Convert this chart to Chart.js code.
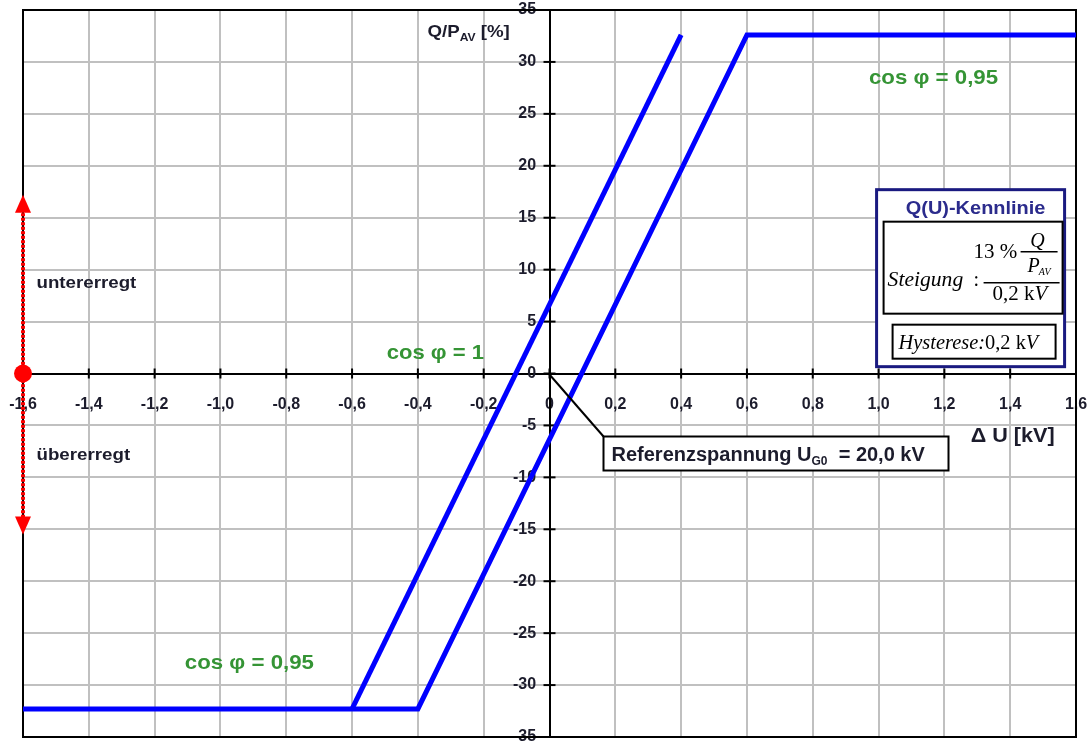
<!DOCTYPE html>
<html><head><meta charset="utf-8">
<script src="https://cdn.jsdelivr.net/npm/chart.js@4.4.0/dist/chart.umd.min.js"></script>
<style>html,body{margin:0;padding:0;background:#fff;overflow:hidden}</style>
</head><body>
<canvas id="c" width="1089" height="744"></canvas>
<script>
// ---- data ----
const xTickValues = [-1.6,-1.4,-1.2,-1.0,-0.8,-0.6,-0.4,-0.2,0,0.2,0.4,0.6,0.8,1.0,1.2,1.4,1.6];
const yTickValues = [-35,-30,-25,-20,-15,-10,-5,0,5,10,15,20,25,30,35];
// Q(U) characteristic with hysteresis (ΔU in kV, Q/P_AV in %)
const curveA_x = [-1.6, -0.4, 0.6, 1.6];
const curveA_y = [-32.3, -32.3, 32.6, 32.6];
const curveB_x = [-0.6, 0.4];
const curveB_y = [-32.3, 32.6];

const SANS = '"Liberation Sans", Arial, sans-serif';
const SERIF = '"Liberation Serif", "Times New Roman", serif';
const TXT = '#1c1c2c';
const GREEN = '#359435';
const NAVY = '#1a1a80';

function fmtX(v){ const r = Math.round(v*10)/10; return r === 0 ? '0' : r.toFixed(1).replace('.', ','); }
function pts(xs, ys){ return xs.map((x,i)=>({x, y: ys[i]})); }
function noPad(s){ s.paddingLeft = 0; s.paddingRight = 0; s.paddingTop = 0; s.paddingBottom = 0; }

function txt(ctx, s, x, y, font, color, align, sx, baseline){
  ctx.save();
  ctx.font = font; ctx.fillStyle = color;
  ctx.textAlign = align || 'left'; ctx.textBaseline = baseline || 'alphabetic';
  ctx.translate(x, y); ctx.scale(sx || 1, 1);
  ctx.fillText(s, 0, 0);
  const w = ctx.measureText(s).width * (sx || 1);
  ctx.restore();
  return w;
}
function line(ctx, x1, y1, x2, y2, color, w){
  ctx.save(); ctx.strokeStyle = color; ctx.lineWidth = w;
  ctx.beginPath(); ctx.moveTo(x1, y1); ctx.lineTo(x2, y2); ctx.stroke(); ctx.restore();
}

const decor = {
  id: 'decor',
  beforeDatasetsDraw(chart){
    const {ctx, chartArea: a, scales: {x, y}} = chart;
    ctx.save();
    ctx.strokeStyle = '#000'; ctx.lineWidth = 2;
    ctx.strokeRect(a.left, a.top, a.right - a.left, a.bottom - a.top);
    ctx.restore();
    const ox = x.getPixelForValue(0), oy = y.getPixelForValue(0);
    xTickValues.forEach(v => { const px = x.getPixelForValue(v); line(ctx, px, oy - 5, px, oy + 5, '#000', 2); });
    yTickValues.forEach(v => { const py = y.getPixelForValue(v); line(ctx, ox - 6, py, ox + 6, py, '#000', 2); });
  },
  afterDraw(chart){
    const {ctx, scales: {x, y}} = chart;
    const X = v => x.getPixelForValue(v), Y = v => y.getPixelForValue(v);
    const ox = X(0), oy = Y(0);

    // axis titles
    let px = X(-0.371), py = Y(32.4);
    px += txt(ctx, 'Q/P', px, py, 'bold 17px ' + SANS, TXT, 'left', 1.1);
    px += txt(ctx, 'AV', px, py + 4, 'bold 11px ' + SANS, TXT, 'left', 1.1);
    txt(ctx, ' [%]', px, py, 'bold 17px ' + SANS, TXT, 'left', 1.1);
    txt(ctx, 'Δ U [kV]', X(1.28), Y(-6.6), 'bold 20px ' + SANS, TXT, 'left', 1.08);

    // cos φ labels
    txt(ctx, 'cos φ = 0,95', X(1.167), Y(28.46), 'bold 21px ' + SANS, GREEN, 'center', 1.06, 'middle');
    txt(ctx, 'cos φ = 0,95', X(-0.912), Y(-27.9), 'bold 21px ' + SANS, GREEN, 'center', 1.06, 'middle');
    txt(ctx, 'cos φ = 1', X(-0.347), Y(2.0), 'bold 21px ' + SANS, GREEN, 'center', 1.05, 'middle');

    // excitation labels
    txt(ctx, 'untererregt', X(-1.559), Y(8.7), 'bold 16px ' + SANS, TXT, 'left', 1.17, 'middle');
    txt(ctx, 'übererregt', X(-1.559), Y(-7.9), 'bold 16px ' + SANS, TXT, 'left', 1.17, 'middle');

    // red double arrow
    const ax = X(-1.6), top = Y(17.2), bot = Y(-15.5);
    ctx.save();
    ctx.strokeStyle = '#ff0000'; ctx.lineWidth = 4; ctx.setLineDash([3, 1.5]);
    ctx.beginPath(); ctx.moveTo(ax, top + 14); ctx.lineTo(ax, bot - 14); ctx.stroke();
    ctx.setLineDash([]);
    ctx.fillStyle = '#ff0000';
    ctx.beginPath(); ctx.moveTo(ax, top); ctx.lineTo(ax - 8, top + 18); ctx.lineTo(ax + 8, top + 18); ctx.closePath(); ctx.fill();
    ctx.beginPath(); ctx.moveTo(ax, bot); ctx.lineTo(ax - 8, bot - 18); ctx.lineTo(ax + 8, bot - 18); ctx.closePath(); ctx.fill();
    ctx.beginPath(); ctx.arc(ax, oy, 9, 0, Math.PI * 2); ctx.fill();
    ctx.restore();

    // Referenzspannung box with leader line
    const rx = ox + 54, ry = oy + 63;
    line(ctx, ox, oy + 1, rx, ry, '#000', 2);
    ctx.save(); ctx.fillStyle = '#fff'; ctx.fillRect(rx, ry, 345, 34);
    ctx.strokeStyle = '#000'; ctx.lineWidth = 2; ctx.strokeRect(rx, ry, 345, 34); ctx.restore();
    let tx = rx + 8; const tb = ry + 24;
    tx += txt(ctx, 'Referenzspannung U', tx, tb, 'bold 20px ' + SANS, TXT, 'left', 1);
    tx += txt(ctx, 'G0', tx, tb + 4, 'bold 12px ' + SANS, TXT, 'left', 1);
    txt(ctx, '  = 20,0 kV', tx, tb, 'bold 20px ' + SANS, TXT, 'left', 1);

    // Q(U)-Kennlinie box
    const bx = X(0.994), by = Y(17.7);
    ctx.save(); ctx.fillStyle = '#fff'; ctx.fillRect(bx, by, 188, 177);
    ctx.strokeStyle = NAVY; ctx.lineWidth = 3; ctx.strokeRect(bx, by, 188, 177); ctx.restore();
    txt(ctx, 'Q(U)-Kennlinie', bx + 99, by + 19, 'bold 19px ' + SANS, '#2b2b8c', 'center', 1.05, 'middle');
    ctx.save(); ctx.strokeStyle = '#000'; ctx.lineWidth = 2;
    ctx.strokeRect(bx + 7, by + 32, 179, 92);
    ctx.strokeRect(bx + 16, by + 135, 163, 34);
    ctx.restore();
    const IT = 'italic 20px ' + SERIF, UP = '20px ' + SERIF;
    txt(ctx, 'Steigung', bx + 11, by + 91, IT, '#000', 'left', 1.08, 'middle');
    txt(ctx, ':', bx + 97, by + 91, UP, '#000', 'left', 1, 'middle');
    txt(ctx, '13 %', bx + 97, by + 68, UP, '#000', 'left', 1.05);
    txt(ctx, 'Q', bx + 161, by + 57, IT, '#000', 'center', 1);
    line(ctx, bx + 144, by + 62, bx + 181, by + 62, '#000', 1.5);
    let qx = bx + 151;
    qx += txt(ctx, 'P', qx, by + 82, IT, '#000', 'left', 1);
    txt(ctx, 'AV', qx - 1, by + 85, 'italic 10px ' + SERIF, '#000', 'left', 1);
    line(ctx, bx + 107, by + 93, bx + 183, by + 93, '#000', 1.5);
    let kx = bx + 116;
    kx += txt(ctx, '0,2 k', kx, by + 110, UP, '#000', 'left', 1.05);
    txt(ctx, 'V', kx, by + 110, IT, '#000', 'left', 1.05);
    let hx = bx + 22;
    hx += txt(ctx, 'Hysterese:', hx, by + 159, IT, '#000', 'left', 1.02);
    hx += txt(ctx, '0,2 k', hx, by + 159, UP, '#000', 'left', 1.02);
    txt(ctx, 'V', hx, by + 159, IT, '#000', 'left', 1.02);
  }
};

new Chart(document.getElementById('c'), {
  type: 'scatter',
  data: {
    datasets: [
      { data: pts(curveA_x, curveA_y), showLine: true, borderColor: '#0000ff', borderWidth: 5, pointRadius: 0, tension: 0, fill: false },
      { data: pts(curveB_x, curveB_y), showLine: true, borderColor: '#0000ff', borderWidth: 5, pointRadius: 0, tension: 0, fill: false }
    ]
  },
  options: {
    responsive: false, animation: false, devicePixelRatio: 1,
    layout: { padding: { left: 23, right: 13, top: 10, bottom: 7 } },
    plugins: { legend: { display: false }, tooltip: { enabled: false } },
    scales: {
      x: {
        type: 'linear', min: -1.6, max: 1.6, position: { y: 0 },
        afterBuildTicks: s => { s.ticks = xTickValues.map(v => ({ value: v })); },
        afterFit: noPad,
        ticks: { autoSkip: false, maxRotation: 0, padding: 23, color: TXT,
                 font: { family: SANS, size: 16, weight: 'bold', lineHeight: 1 }, callback: v => fmtX(v) },
        grid: { color: '#c0c0c0', lineWidth: 2, drawTicks: false },
        border: { display: true, color: '#000', width: 2 }
      },
      y: {
        type: 'linear', min: -35, max: 35, position: { x: 0 },
        afterBuildTicks: s => { s.ticks = yTickValues.map(v => ({ value: v })); },
        afterFit: noPad,
        ticks: { autoSkip: false, padding: 0, color: TXT,
                 font: { family: SANS, size: 16, weight: 'bold', lineHeight: 1 }, callback: v => String(v) + '   ' },
        grid: { color: '#c0c0c0', lineWidth: 2, drawTicks: false },
        border: { display: true, color: '#000', width: 2 }
      }
    }
  },
  plugins: [decor]
});
</script>
</body></html>
